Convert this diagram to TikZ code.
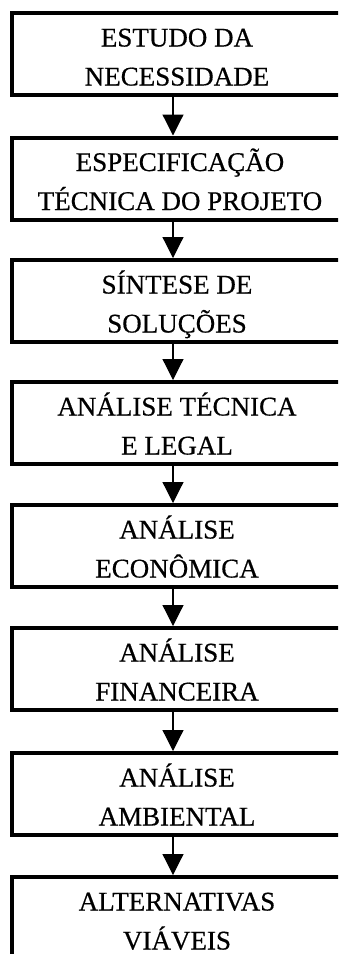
\documentclass[tikz,border=0pt]{standalone}
\usepackage{fontspec}
\setmainfont{Liberation Serif}
\newfontfamily\scanfont[FakeBold=0.5]{Liberation Serif}
\usetikzlibrary{arrows.meta}
\begin{document}
\begin{tikzpicture}[x=1pt,y=-1pt,
  stagebox/.style={draw=black,line width=4pt,inner sep=0pt,
    minimum width=330pt,minimum height=82pt},
  lbl/.style={inner sep=0pt,font=\scanfont\fontsize{27}{39}\selectfont},
  arr/.style={draw=black,line width=1.2pt,-{Triangle[width=21pt,length=21pt]}}]
\useasboundingbox (0,0) rectangle (338,954);
\fill[white] (0,0) rectangle (338,954);
\clip (0,0) rectangle (338,954);
\coordinate (ax) at (173,0);
\foreach \n/\y in {b1/54,b2/178.5,b3/301,b4/423,b5/546,b6/669,b7/794,b8/918}{
  \node[stagebox] (\n) at (177,\y) {};
}
\node[lbl] (t1) at ([yshift=-4.2pt]b1.center) {\begin{tabular}{@{}c@{}}ESTUDO DA\\NECESSIDADE\end{tabular}};
\node[lbl] (t2) at ([yshift=-4.2pt,xshift=3pt]b2.center) {\begin{tabular}{@{}c@{}}ESPECIFICAÇÃO\\TÉCNICA DO PROJETO\end{tabular}};
\node[lbl] (t3) at ([yshift=-4.2pt]b3.center) {\begin{tabular}{@{}c@{}}SÍNTESE DE\\SOLUÇÕES\end{tabular}};
\node[lbl] (t4) at ([yshift=-4.2pt]b4.center) {\begin{tabular}{@{}c@{}}ANÁLISE TÉCNICA\\E LEGAL\end{tabular}};
\node[lbl] (t5) at ([yshift=-4.2pt]b5.center) {\begin{tabular}{@{}c@{}}ANÁLISE\\ECONÔMICA\end{tabular}};
\node[lbl] (t6) at ([yshift=-4.2pt]b6.center) {\begin{tabular}{@{}c@{}}ANÁLISE\\FINANCEIRA\end{tabular}};
\node[lbl] (t7) at ([yshift=-4.2pt]b7.center) {\begin{tabular}{@{}c@{}}ANÁLISE\\AMBIENTAL\end{tabular}};
\node[lbl] (t8) at ([yshift=-4.2pt]b8.center) {\begin{tabular}{@{}c@{}}ALTERNATIVAS\\VIÁVEIS\end{tabular}};
\foreach \a/\b in {b1/b2,b2/b3,b3/b4,b4/b5,b5/b6,b6/b7,b7/b8}{
  \draw[arr] (\a.south -| ax) -- (\b.north -| ax);
}
\end{tikzpicture}
\end{document}
